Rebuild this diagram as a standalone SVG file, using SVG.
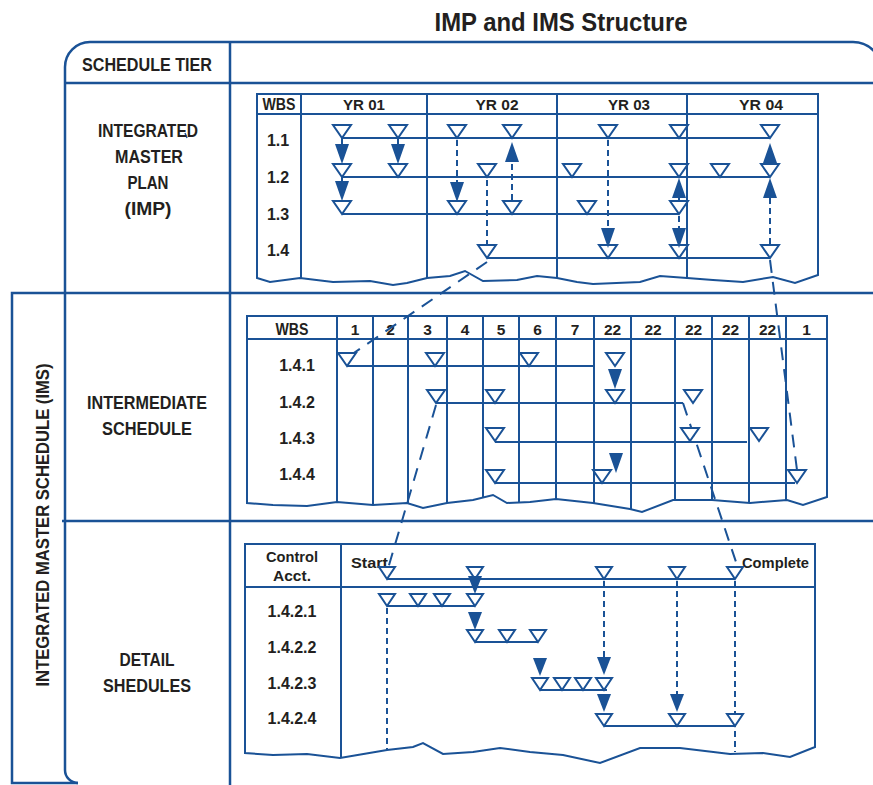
<svg xmlns="http://www.w3.org/2000/svg" xmlns:xlink="http://www.w3.org/1999/xlink" width="873" height="785" viewBox="0 0 873 785">
<style>
.fr{fill:none;stroke:#1a5296;stroke-width:2.5}
.tb{fill:#fff;stroke:#1a5296;stroke-width:2}
.gl{fill:none;stroke:#1a5296;stroke-width:2}
.ds{fill:none;stroke:#1a5296;stroke-width:2;stroke-dasharray:6 4}
.dl{fill:none;stroke:#1a5296;stroke-width:2;stroke-dasharray:13 9}
text{font-family:"Liberation Sans",Arial,sans-serif;font-weight:bold;fill:#231f20;text-anchor:middle}
.lb{font-size:16px}
.tl{font-size:18px}
.hd{font-size:14.5px}
.nm{font-size:15.5px}
</style>
<defs>
<path id="tri" d="M-9,-13H9L0,0Z" fill="#fff" stroke="#1a5296" stroke-width="2"/>
<path id="tri2" d="M-8,-12H8L0,0Z" fill="#fff" stroke="#1a5296" stroke-width="2"/>
<path id="hdn" d="M-7,-20H7L0,0Z" fill="#1a5296"/>
<path id="hup" d="M-7,20H7L0,0Z" fill="#1a5296"/>
<path id="hdn2" d="M-7,-18H7L0,0Z" fill="#1a5296"/>
</defs>
<rect width="873" height="785" fill="#fff"/>
<g id="title"><text x="561" y="31" style="font-size:25px" textLength="253" lengthAdjust="spacingAndGlyphs">IMP and IMS Structure</text></g>
<g id="frame">
<path class="fr" d="M78,783A13,13 0 0 1 65,770V67A25,25 0 0 1 90,42H853A29,29 0 0 1 882,71"/>
<path class="fr" d="M873,293H12V783H78"/>
<path class="fr" d="M65,83H873"/>
<path class="fr" d="M62,521H873"/>
<path class="fr" d="M230,42V785"/>
<path d="M185,133L187,138" stroke="#1a5296" stroke-width="1.5"/>
</g>
<g id="tier-labels">
<text class="tl" x="147" y="71" textLength="130" lengthAdjust="spacingAndGlyphs">SCHEDULE TIER</text>
<text class="tl" x="148" y="137" textLength="100" lengthAdjust="spacingAndGlyphs">INTEGRATED</text>
<text class="tl" x="149" y="163" textLength="68" lengthAdjust="spacingAndGlyphs">MASTER</text>
<text class="tl" x="148" y="189" textLength="41" lengthAdjust="spacingAndGlyphs">PLAN</text>
<text class="tl" x="148" y="215" textLength="47" lengthAdjust="spacingAndGlyphs">(IMP)</text>
<text class="tl" x="147" y="409" textLength="120" lengthAdjust="spacingAndGlyphs">INTERMEDIATE</text>
<text class="tl" x="147" y="435" textLength="90" lengthAdjust="spacingAndGlyphs">SCHEDULE</text>
<text class="tl" x="147" y="666" textLength="55" lengthAdjust="spacingAndGlyphs">DETAIL</text>
<text class="tl" x="147" y="692" textLength="88" lengthAdjust="spacingAndGlyphs">SHEDULES</text>
<text class="tl" transform="translate(49,525) rotate(-90)" x="0" y="0" textLength="323" lengthAdjust="spacingAndGlyphs">INTEGRATED MASTER SCHEDULE (IMS)</text>
</g>
<g id="imp-table">
<path class="tb" d="M257,94H818V275L795,283L773,277L743,282L713,280L687,278L660,276L640,282L593,284L577,282L557,278L537,276L517,280L483,281L465,271L450,276L427,278L407,283L393,285L370,281L333,282L300,278L270,282L257,278Z"/>
<path class="gl" d="M257,114H818M301,94V279M427,94V278M557,94V278M687,94V278"/>
<text class="hd" x="279" y="110" style="font-size:16px" textLength="33" lengthAdjust="spacingAndGlyphs">WBS</text>
<text class="nm" x="364" y="110" textLength="42" lengthAdjust="spacingAndGlyphs">YR 01</text>
<text class="nm" x="497" y="110" textLength="43" lengthAdjust="spacingAndGlyphs">YR 02</text>
<text class="nm" x="629" y="110" textLength="42" lengthAdjust="spacingAndGlyphs">YR 03</text>
<text class="nm" x="761" y="110" textLength="44" lengthAdjust="spacingAndGlyphs">YR 04</text>
<text class="lb" x="278" y="146">1.1</text>
<text class="lb" x="278" y="183">1.2</text>
<text class="lb" x="278" y="220">1.3</text>
<text class="lb" x="278" y="256">1.4</text>
<path class="gl" d="M342,138H770M342,177H770M342,214H679M487,258H770"/>
</g>
<g id="int-table">
<path class="tb" d="M247,316H827V497L803,505L787,500L750,503L712,500L673,500L642,512L630,509L593,503L556,499L530,502L507,503L493,495L473,500L447,503L423,508L407,503L373,505L337,502L307,506L273,505L247,503Z"/>
<path class="gl" d="M247,339H827M337,316V502M373,316V505M408,316V503M447,316V503M483,316V497M519,316V503M556,316V499M594,316V503M631,316V509M675,316V500M712,316V500M749,316V503M786,316V500"/>
<text class="hd" x="292" y="335" style="font-size:16px" textLength="33" lengthAdjust="spacingAndGlyphs">WBS</text>
<text class="nm" x="355" y="335">1</text>
<text class="nm" x="390.5" y="335">2</text>
<text class="nm" x="427.5" y="335">3</text>
<text class="nm" x="465" y="335">4</text>
<text class="nm" x="501" y="335">5</text>
<text class="nm" x="537.5" y="335">6</text>
<text class="nm" x="575" y="335">7</text>
<text class="nm" x="612.5" y="335">22</text>
<text class="nm" x="653" y="335">22</text>
<text class="nm" x="693.5" y="335">22</text>
<text class="nm" x="730.5" y="335">22</text>
<text class="nm" x="767.5" y="335">22</text>
<text class="nm" x="806.5" y="335">1</text>
<text class="lb" x="297" y="371">1.4.1</text>
<text class="lb" x="297" y="408">1.4.2</text>
<text class="lb" x="297" y="444">1.4.3</text>
<text class="lb" x="297" y="480">1.4.4</text>
<path class="gl" d="M347,366H595M436,403H683M495,442H747M495,483H795"/>
</g>
<g id="detail-table">
<path class="tb" d="M245,544H815V747L790,757L763,753L730,754L680,748L640,748L600,763L563,755L530,752L500,748L473,752L443,754L423,743L413,747L387,750L340,758L307,754L273,755L245,753Z"/>
<path class="gl" d="M245,587H815M341,544V758"/>
<text class="hd" x="292" y="562" style="font-size:15.5px" textLength="52" lengthAdjust="spacingAndGlyphs">Control</text>
<text class="hd" x="292" y="581" style="font-size:15.5px">Acct.</text>
<text class="nm" x="351" y="568" style="text-anchor:start" textLength="37" lengthAdjust="spacingAndGlyphs">Start</text>
<text class="nm" x="742" y="568" style="text-anchor:start" textLength="67" lengthAdjust="spacingAndGlyphs">Complete</text>
<text class="lb" x="292" y="617">1.4.2.1</text>
<text class="lb" x="292" y="653">1.4.2.2</text>
<text class="lb" x="292" y="689">1.4.2.3</text>
<text class="lb" x="292" y="724">1.4.2.4</text>
<path class="gl" d="M387,579H735M387,606H475M475,642H538M540,690H607M604,726H735"/>
</g>
<g id="connectors">
<path class="gl" d="M342,138V150M398,138V150M342,177V188M679,198V202"/>
<path class="ds" d="M457,140V186M512,200V160M487,180V245M608,140V232M679,216V232M770,198V245"/>
<path class="dl" d="M770,260L797,470"/>
<path class="dl" d="M487,262L348,357"/>
<path class="dl" d="M436,405L387,572"/>
<path class="dl" d="M683,403L738,568"/>
<path class="ds" d="M604,581V660M677,581V697M735,581V752M387,608V750"/>
<use href="#tri" x="342" y="138"/><use href="#tri" x="398" y="138"/><use href="#tri" x="457" y="138"/><use href="#tri" x="512" y="138"/><use href="#tri" x="608" y="138"/><use href="#tri" x="679" y="138"/><use href="#tri" x="770" y="138"/>
<use href="#tri" x="342" y="177"/><use href="#tri" x="398" y="177"/><use href="#tri" x="487" y="177"/><use href="#tri" x="572" y="177"/><use href="#tri" x="679" y="177"/><use href="#tri" x="720" y="177"/><use href="#tri" x="770" y="177"/>
<use href="#tri" x="342" y="214"/><use href="#tri" x="457" y="214"/><use href="#tri" x="512" y="214"/><use href="#tri" x="587" y="214"/><use href="#tri" x="679" y="214"/>
<use href="#tri" x="487" y="258"/><use href="#tri" x="608" y="258"/><use href="#tri" x="679" y="258"/><use href="#tri" x="770" y="258"/>
<use href="#hdn" x="342" y="164"/><use href="#hdn" x="398" y="164"/><use href="#hdn" x="342" y="201"/><use href="#hdn" x="457" y="202"/><use href="#hup" x="512" y="142"/><use href="#hdn" x="608" y="248"/><use href="#hup" x="679" y="178"/><use href="#hdn" x="679" y="248"/><use href="#hup" x="770" y="143"/><use href="#hup" x="770" y="178"/>
<use href="#tri" x="347" y="366"/><use href="#tri" x="435" y="366"/><use href="#tri" x="529" y="366"/><use href="#tri" x="615" y="366"/>
<use href="#tri" x="436" y="403"/><use href="#tri" x="495" y="403"/><use href="#tri" x="615" y="403"/><use href="#tri" x="693" y="403"/>
<use href="#tri" x="495" y="441"/><use href="#tri" x="690" y="441"/><use href="#tri" x="759" y="441"/>
<use href="#tri" x="495" y="483"/><use href="#tri" x="602" y="483"/><use href="#tri" x="797" y="483"/>
<use href="#hdn" x="615" y="389"/><use href="#hdn" x="616" y="473"/>
<use href="#tri2" x="387" y="579"/><use href="#tri2" x="475" y="579"/><use href="#tri2" x="604" y="579"/><use href="#tri2" x="677" y="579"/><use href="#tri2" x="735" y="579"/>
<use href="#tri2" x="387" y="606"/><use href="#tri2" x="418" y="606"/><use href="#tri2" x="442" y="606"/><use href="#tri2" x="475" y="606"/>
<use href="#tri2" x="475" y="642"/><use href="#tri2" x="507" y="642"/><use href="#tri2" x="538" y="642"/>
<use href="#tri2" x="540" y="690"/><use href="#tri2" x="562" y="690"/><use href="#tri2" x="583" y="690"/><use href="#tri2" x="604" y="690"/>
<use href="#tri2" x="604" y="726"/><use href="#tri2" x="677" y="726"/><use href="#tri2" x="735" y="726"/>
<use href="#hdn2" x="475" y="594"/><use href="#hdn2" x="475" y="630"/><use href="#hdn2" x="540" y="676"/><use href="#hdn2" x="604" y="675"/><use href="#hdn2" x="604" y="712"/><use href="#hdn2" x="677" y="712"/>
</g>
</svg>
